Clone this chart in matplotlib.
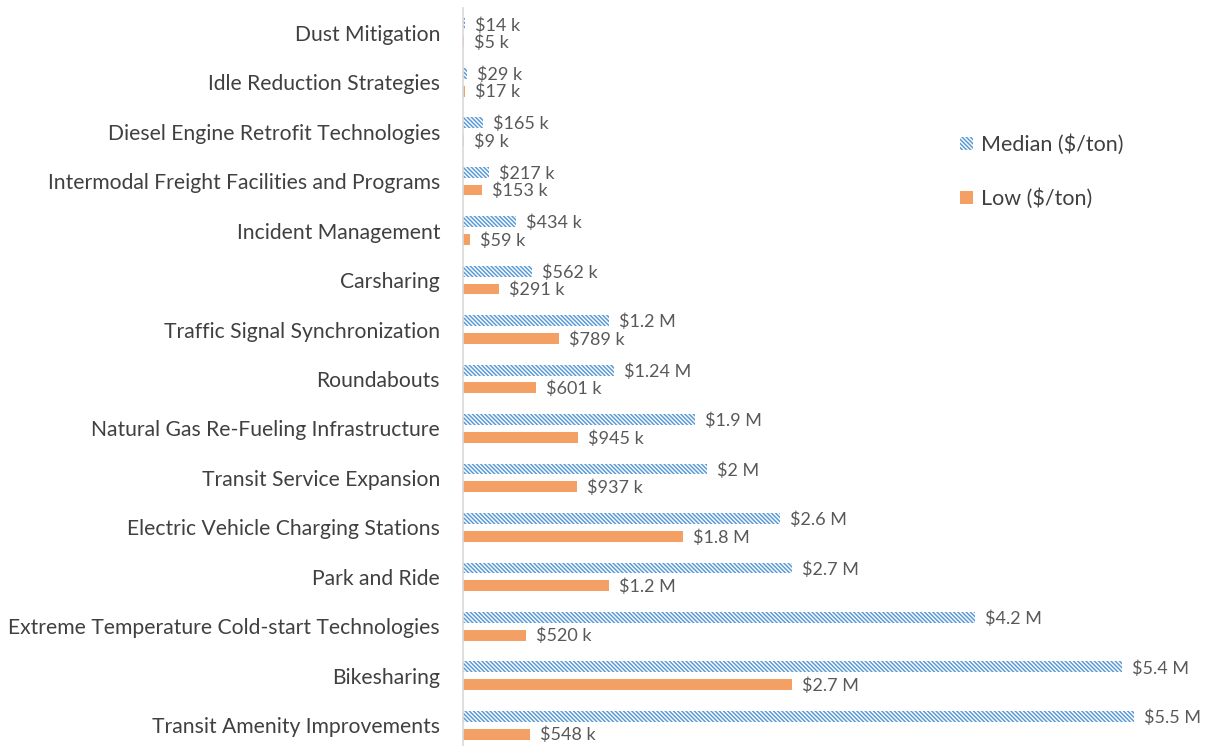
import matplotlib
matplotlib.use("Agg")
import matplotlib.pyplot as plt
import numpy as np
from matplotlib.patches import Patch

categories = [
    "Dust Mitigation",
    "Idle Reduction Strategies",
    "Diesel Engine Retrofit Technologies",
    "Intermodal Freight Facilities and Programs",
    "Incident Management",
    "Carsharing",
    "Traffic Signal Synchronization",
    "Roundabouts",
    "Natural Gas Re-Fueling Infrastructure",
    "Transit Service Expansion",
    "Electric Vehicle Charging Stations",
    "Park and Ride",
    "Extreme Temperature Cold-start Technologies",
    "Bikesharing",
    "Transit Amenity Improvements",
]
median_vals = [14e3, 29e3, 165e3, 217e3, 434e3, 562e3, 1.2e6, 1.24e6, 1.9e6, 2.0e6,
               2.6e6, 2.7e6, 4.2e6, 5.4e6, 5.5e6]
low_vals = [5e3, 17e3, 9e3, 153e3, 59e3, 291e3, 789e3, 601e3, 945e3, 937e3,
            1.8e6, 1.2e6, 520e3, 2.7e6, 548e3]


def fmt(v):
    if v >= 1e6:
        return f"${v/1e6:g} M"
    return f"${v/1e3:g} k"


plt.rcParams['font.family'] = ['Lato', 'DejaVu Sans']
plt.rcParams['hatch.linewidth'] = 1.1

BLUE = "#5B9BD5"
ORANGE = "#F4A064"
TXT = "#404040"
LBL = "#595959"
HATCH = "\\\\\\\\\\\\\\\\"

fig = plt.figure(figsize=(12.14, 7.46), dpi=100)
W, H = 1214, 746
x0, x1 = 463, 1207
ytop, ybot = 8, 750
ax = fig.add_axes([x0 / W, 1 - ybot / H, (x1 - x0) / W, (ybot - ytop) / H])

n = len(categories)
y = np.arange(n)
bh = 0.22
off = 0.18
ax.barh(y - off, median_vals, height=bh, color="white", edgecolor=BLUE,
        hatch=HATCH, linewidth=0)
ax.barh(y + off, low_vals, height=bh, color=ORANGE, linewidth=0)

xmax = (x1 - x0) / 122.0 * 1e6
ax.set_xlim(0, xmax)
ax.set_ylim(n - 0.5, -0.5)

px = xmax / (x1 - x0)
for i in range(n):
    ax.text(median_vals[i] + 10 * px, y[i] - off + 0.03, fmt(median_vals[i]), va="center",
            ha="left", fontsize=13, color=LBL)
    ax.text(low_vals[i] + 10 * px, y[i] + off + 0.02, fmt(low_vals[i]), va="center",
            ha="left", fontsize=13, color=LBL)

ax.set_yticks(y)
ax.set_yticklabels(categories, fontsize=15.2, color=TXT)
ax.tick_params(axis='y', length=0, pad=16.5)
ax.set_xticks([])
for s in ["top", "right", "bottom"]:
    ax.spines[s].set_visible(False)
ax.spines["left"].set_color("#D9D9D9")
ax.spines["left"].set_linewidth(1.2)

handles = [Patch(facecolor="white", edgecolor=BLUE, hatch=HATCH, linewidth=0, label="Median ($/ton)"),
           Patch(facecolor=ORANGE, linewidth=0, label="Low ($/ton)")]
fig.legend(handles=handles, loc="upper left", bbox_to_anchor=(941 / W, 1 - 115 / H),
           frameon=False, fontsize=15.5, labelcolor=TXT, handlelength=0.57, handleheight=0.55,
           handletextpad=0.37, labelspacing=1.54)

fig.savefig("out.png", dpi=100)
